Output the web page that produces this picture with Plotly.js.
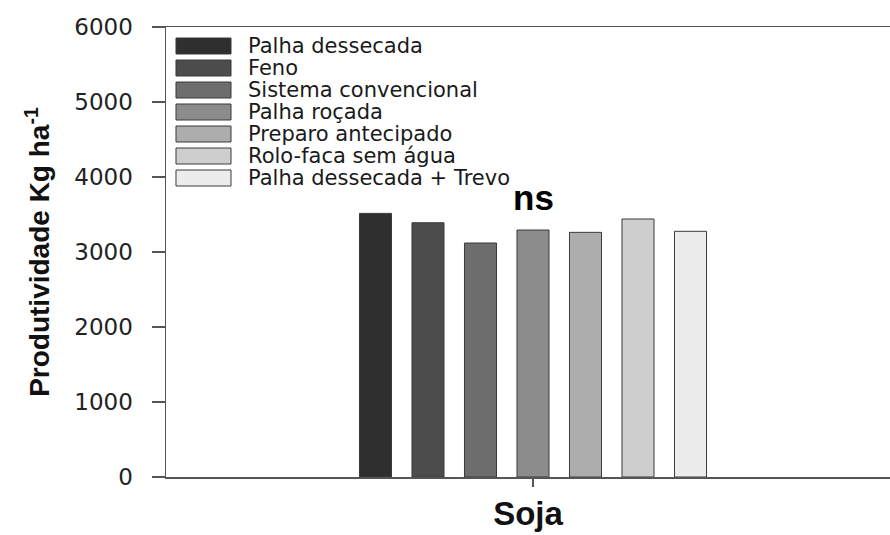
<!DOCTYPE html>
<html>
<head>
<meta charset="utf-8">
<script src="https://cdn.plot.ly/plotly-3.0.1.min.js"></script>
<style>
  html, body { margin: 0; padding: 0; background: #ffffff; }
  #chart { width: 890px; height: 535px; }
</style>
</head>
<body>
<div id="chart"></div>
<script>
// Soybean yield (kg/ha) under seven soil management systems
const crop = 'Soja';
const treatments = [
  'Palha dessecada',
  'Feno',
  'Sistema convencional',
  'Palha roçada',
  'Preparo antecipado',
  'Rolo-faca sem água',
  'Palha dessecada + Trevo'
];
const yields = [3515, 3390, 3120, 3293, 3262, 3440, 3276];
const fills = ['#2f2f2f', '#4c4c4c', '#6d6d6d', '#8c8c8c', '#adadad', '#cecece', '#ececec'];
const yTicks = [0, 1000, 2000, 3000, 4000, 5000, 6000];
const significance = 'ns';

const traces = treatments.map((name, i) => ({
  type: 'bar',
  name: name,
  x: [crop],
  y: [yields[i]],
  marker: { color: fills[i], line: { color: '#3a3a3a', width: 1 } },
  showlegend: false,
  hoverinfo: 'name+y'
}));

// Hand-built legend: large swatches stacked in the upper-left corner
const legX0 = 0.0138, legX1 = 0.0898, legTextX = 0.1105;
const rowTop = 46, rowStep = 22, boxH = 16, plotTop = 27, plotBottom = 477;
const toPaperY = py => (plotBottom - py) / (plotBottom - plotTop);

const shapes = [];
const annotations = [];
treatments.forEach((name, i) => {
  const cy = rowTop + i * rowStep;
  shapes.push({
    type: 'rect', xref: 'paper', yref: 'paper',
    x0: legX0, x1: legX1,
    y0: toPaperY(cy + boxH / 2), y1: toPaperY(cy - boxH / 2),
    fillcolor: fills[i], line: { color: '#3a3a3a', width: 1 }
  });
  annotations.push({
    xref: 'paper', yref: 'paper', x: legTextX, y: toPaperY(cy),
    xanchor: 'left', yanchor: 'middle', showarrow: false,
    text: name,
    font: { family: 'DejaVu Sans, Arial, sans-serif', size: 21, color: '#1a1a1a' }
  });
});

annotations.push({
  xref: 'x', yref: 'y', x: crop, y: 3730,
  xanchor: 'center', yanchor: 'middle', showarrow: false,
  text: '<b>' + significance + '</b>',
  font: { family: 'Liberation Sans, Arial, sans-serif', size: 35, color: '#000000' }
});

const layout = {
  width: 890,
  height: 535,
  margin: { l: 166, r: 0, t: 27, b: 58 },
  paper_bgcolor: '#ffffff',
  plot_bgcolor: '#ffffff',
  barmode: 'group',
  bargap: 0.5,
  bargroupgap: 0.39,
  font: { family: 'Liberation Sans, Arial, sans-serif', color: '#222222' },
  xaxis: {
    type: 'category',
    range: [-0.4993, 0.4857],
    showticklabels: false,
    ticks: 'outside',
    ticklen: 8,
    tickwidth: 1.5,
    tickcolor: '#555555',
    showline: true,
    linecolor: '#555555',
    linewidth: 1.5,
    mirror: true,
    showgrid: false,
    zeroline: false,
    title: {
      text: '<b>' + crop + '</b>',
      font: { family: 'Liberation Sans, Arial, sans-serif', size: 33, color: '#111111' },
      standoff: 16
    }
  },
  yaxis: {
    range: [0, 6000],
    tickvals: yTicks,
    ticktext: yTicks.map(String),
    ticks: 'outside',
    ticklen: 13,
    tickwidth: 1.5,
    tickcolor: '#555555',
    ticklabelstandoff: 14,
    tickfont: { family: 'DejaVu Sans, Arial, sans-serif', size: 23, color: '#222222' },
    showline: true,
    linecolor: '#555555',
    linewidth: 1.5,
    mirror: false,
    showgrid: false,
    zeroline: false,
    title: {
      text: '<b>Produtividade Kg ha<sup>-1</sup></b>',
      font: { family: 'Liberation Sans, Arial, sans-serif', size: 28, color: '#111111' },
      standoff: 16
    }
  },
  shapes: shapes,
  annotations: annotations
};

Plotly.newPlot('chart', traces, layout, { displayModeBar: false, staticPlot: true });
</script>
</body>
</html>
